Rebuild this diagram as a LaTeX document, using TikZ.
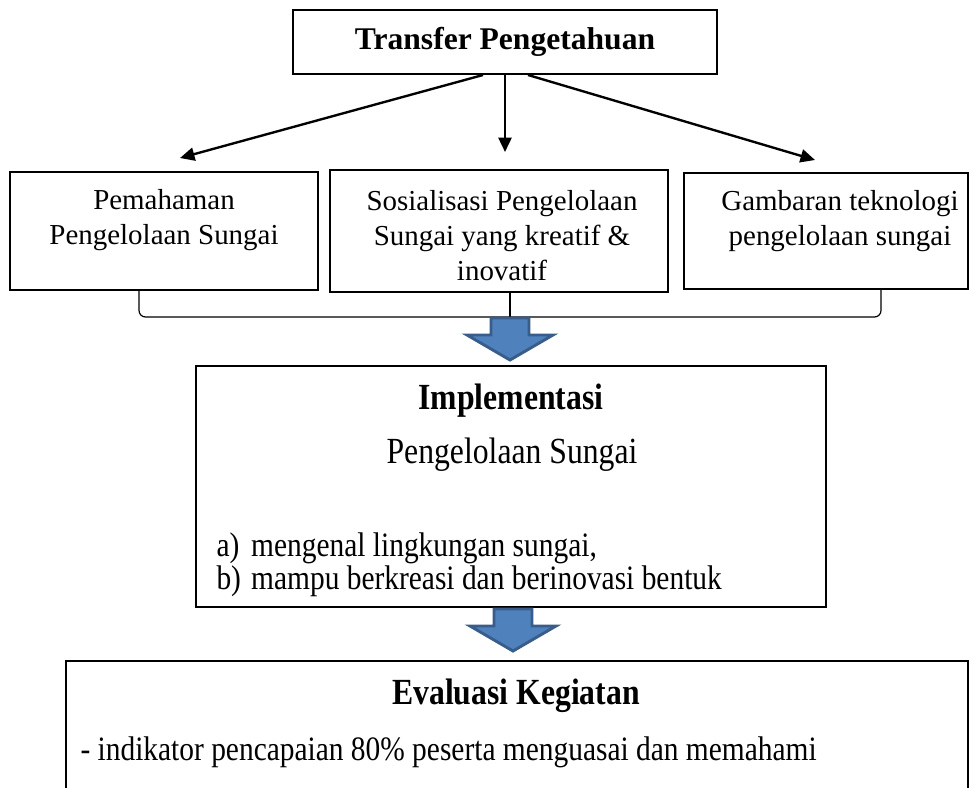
\documentclass[tikz,border=0pt]{standalone}
\usepackage{fontspec}
\setmainfont{Liberation Serif}
\usepackage{graphicx}
\usetikzlibrary{arrows.meta,calc}
\definecolor{arrowfill}{RGB}{79,129,189}
\definecolor{arrowline}{RGB}{56,93,138}
\newcommand{\cond}[1]{\scalebox{0.86}[1]{#1}}

\tikzset{
  box/.style={draw, line width=0.75pt, inner sep=0pt},
  link/.style={line width=0.9pt, -{Triangle[length=5.5pt,width=5pt]}},
  txt/.style={font=\fontsize{11}{13.3}\selectfont, align=center, inner sep=0pt},
  bigtxt/.style={font=\fontsize{14}{16}\selectfont, inner sep=0pt},
  listtxt/.style={font=\fontsize{13}{15}\selectfont, inner sep=0pt},
  bracket/.style={line width=0.45pt, rounded corners=2.5pt},
  blockarrow/.style={fill=arrowfill, draw=arrowline, line width=1.1pt}
}

\begin{document}
\begin{tikzpicture}[x=0.38pt, y=-0.38pt]

  \useasboundingbox (0,0) rectangle (972,787);
  \clip (0,0) rectangle (972,787);

  \newcommand\W{0.38pt}
  \newcommand\blockdown[2]{%
    \filldraw[blockarrow] (#1-19,#2) -- (#1+19,#2) -- (#1+19,#2+17)
      -- (#1+43,#2+17) -- (#1,#2+42) -- (#1-43,#2+17) -- (#1-19,#2+17) -- cycle;}

  %% boxes
  \node[box, font=\fontsize{12}{14}\selectfont, minimum width=424*\W, minimum height=64*\W]
    (transfer) at (505,42) {\textbf{Transfer Pengetahuan}};
  \node[box, minimum width=308*\W, minimum height=118*\W] (paham) at (164,231) {};
  \node[box, minimum width=338*\W, minimum height=122*\W] (sosial) at (499,231) {};
  \node[box, minimum width=284*\W, minimum height=116*\W] (gambar) at (826,231) {};
  \node[box, minimum width=630*\W, minimum height=241*\W] (impl) at (511,486.5) {};
  \node[box, minimum width=902*\W, minimum height=240*\W] (eval) at (517,781) {};

  %% texts
  \node[txt] (pahamtxt) at (164,220) {Pemahaman\\Pengelolaan Sungai};
  \node[txt] (sosialtxt) at (502,236)
    {Sosialisasi Pengelolaan\\Sungai yang kreatif \&\\inovatif};
  \node[txt] (gambartxt) at (840,221) {Gambaran teknologi\\pengelolaan sungai};

  \node[bigtxt] (impltitle) at (511,401) {\cond{\textbf{Implementasi}}};
  \node[bigtxt] (impltxt) at (512,455) {\cond{Pengelolaan Sungai}};
  \node[listtxt, anchor=west] (impllist) at (216,565)
    {\cond{\begin{tabular}{@{}l@{\hspace{4.5pt}}l@{}}
      a) & mengenal lingkungan sungai,\\[-2.5pt]
      b) & mampu berkreasi dan berinovasi bentuk
    \end{tabular}}};

  \node[bigtxt] (evaltitle) at (516,696) {\cond{\textbf{Evaluasi Kegiatan}}};
  \node[listtxt, anchor=west] (evaltxt) at (80,752)
    {\cond{- indikator pencapaian 80\% peserta menguasai dan memahami}};

  %% connectors
  \coordinate (pahamin) at (180,158);
  \coordinate (sosialin) at (505,152);
  \coordinate (gambarin) at (815,160);
  \draw[link] ($(transfer.south)+(-22,0)$) -- (pahamin);
  \draw[link] (transfer.south) -- (sosialin);
  \draw[link] ($(transfer.south)+(23,0)$) -- (gambarin);

  %% bracket
  \coordinate (brL) at (139,317);
  \coordinate (brR) at (881,317);
  \coordinate (brM) at (510,317);
  \draw[bracket] (paham.south -| brL) -- (brL) -- (brR) -- (gambar.south -| brR);
  \draw[line width=0.45pt] (sosial.south -| brM) -- (brM);

  %% block arrows
  \blockdown{510}{318}
  \blockdown{513}{609}

\end{tikzpicture}
\end{document}
